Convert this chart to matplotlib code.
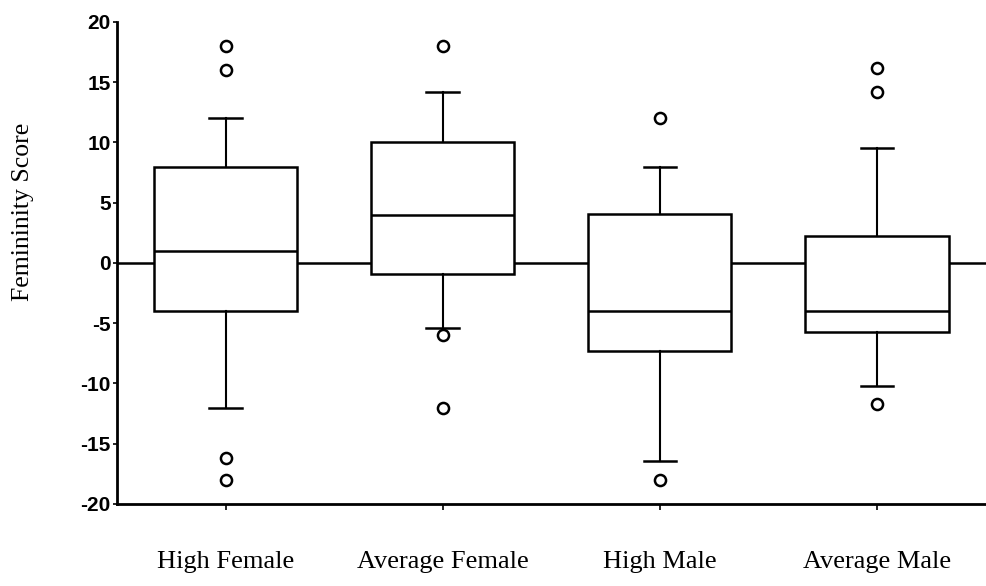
import matplotlib
matplotlib.use("Agg")
import matplotlib.pyplot as plt

groups = ["High Female", "Average Female", "High Male", "Average Male"]
whislo = [-12, -5.4, -16.4, -10.2]
q1 = [-4, -0.9, -7.3, -5.7]
med = [1, 4, -4, -4]
q3 = [8, 10, 4.1, 2.2]
whishi = [12, 14.2, 8, 9.5]
fliers = [[18, 16, -16.2, -18], [18, -6, -12], [12, -18], [16.2, 14.2, -11.7]]
yticks = [20, 15, 10, 5, 0, -5, -10, -15, -20]

stats = []
for i in range(len(groups)):
    stats.append({"label": groups[i], "whislo": whislo[i], "q1": q1[i], "med": med[i],
                  "q3": q3[i], "whishi": whishi[i], "fliers": fliers[i]})

fig = plt.figure(figsize=(9.87, 5.86), dpi=100)
ax = fig.add_axes([0.1185, 0.14, 0.88, 0.8225])

ax.axhline(0, color="black", lw=1.8, zorder=1)

lw = 1.8
ax.bxp(stats, positions=[1, 2, 3, 4], widths=0.66, capwidths=0.15,
       patch_artist=True,
       boxprops=dict(facecolor="white", edgecolor="black", linewidth=lw),
       medianprops=dict(color="black", linewidth=lw),
       whiskerprops=dict(color="black", linewidth=1.5),
       capprops=dict(color="black", linewidth=lw),
       flierprops=dict(marker="o", markerfacecolor="white", markeredgecolor="black",
                       markersize=8, markeredgewidth=1.8),
       zorder=2)

ax.set_xlim(0.5, 4.5)
ax.set_ylim(-20, 20)
ax.set_yticks(yticks)
ax.set_yticklabels([str(t) for t in yticks], fontfamily="Liberation Sans",
                   fontsize=15, fontweight="bold")
ax.set_xticks([1, 2, 3, 4])
ax.set_xticklabels(groups, fontfamily="Liberation Serif", fontsize=19)
ax.tick_params(axis="x", length=4, width=1.2, pad=30)
ax.tick_params(axis="y", length=3, width=1.2, pad=1.5)
ax.set_ylabel("Femininity Score", fontfamily="Liberation Serif", fontsize=18.5)
ax.yaxis.set_label_coords(-0.096, 0.606)

for s in ["top", "right"]:
    ax.spines[s].set_visible(False)
for s in ["left", "bottom"]:
    ax.spines[s].set_linewidth(2)

fig.savefig("out.png", dpi=100)
